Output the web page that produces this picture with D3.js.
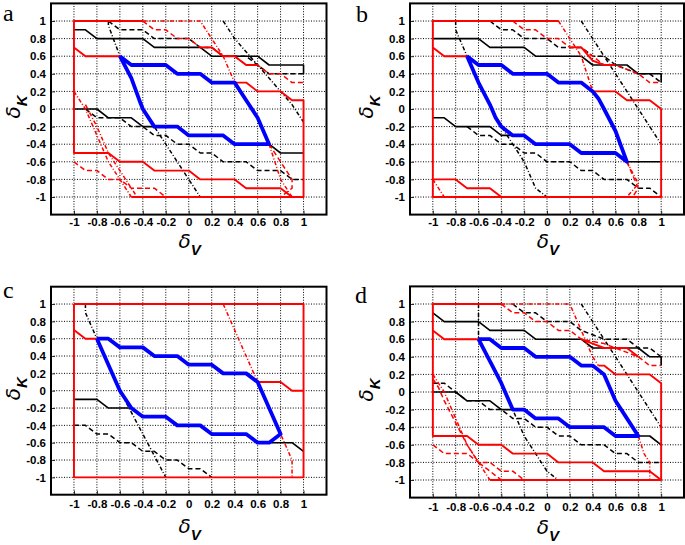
<!DOCTYPE html>
<html><head><meta charset="utf-8">
<script src="https://cdn.jsdelivr.net/npm/d3@7"></script>
<style>
html,body{margin:0;padding:0;background:#fff;}
svg{display:block;}
</style></head>
<body>
<svg id="chart" width="685" height="545"></svg>
<script>
// ---------- tick labels ----------
const tickValues = [-1,-0.8,-0.6,-0.4,-0.2,0,0.2,0.4,0.6,0.8,1];
const panelLetters = ["a","b","c","d"];

// ---------- panel a ----------
const a_blue = [[-0.6,0.6],[-0.5,0.5],[-0.2,0.5],[-0.1,0.4],[0.1,0.4],[0.2,0.3],[0.4,0.3],[0.5,0.1],[0.6,-0.1],[0.7,-0.4],[0.4,-0.4],[0.3,-0.3],[0,-0.3],[-0.1,-0.2],[-0.3,-0.2],[-0.4,0],[-0.43,0.1],[-0.5,0.35],[-0.6,0.6]];
const a_blackSolid = [
  [[-1,0.9],[-0.9,0.9],[-0.8,0.8],[-0.4,0.8],[-0.3,0.7],[0.1,0.7],[0.2,0.6],[0.6,0.6],[0.7,0.5],[1,0.5],[1,0.4]],
  [[-1,0],[-0.8,0],[-0.7,-0.1],[-0.5,-0.1],[-0.4,-0.2],[-0.3,-0.2]],
  [[0.7,-0.4],[0.8,-0.5],[1,-0.5]]
];
const a_blackDashed = [
  [[-0.7,1],[-0.6,0.9],[-0.4,0.9],[-0.3,0.8],[0,0.8],[0.1,0.7],[0.2,0.7],[0.3,0.6],[0.5,0.6],[0.6,0.5],[0.7,0.4],[1,0.4]],
  [[-0.9,0],[-0.8,-0.1],[-0.6,-0.1],[-0.5,-0.2],[-0.4,-0.2],[-0.3,-0.3],[-0.2,-0.3],[-0.1,-0.4],[0,-0.4],[0.1,-0.5],[0.2,-0.5],[0.3,-0.6],[0.5,-0.6],[0.6,-0.7],[0.8,-0.7],[0.9,-0.8],[1,-0.8]]
];
const a_blackDashDot = [
  [[-0.7,1],[-0.7,0.95],[-0.6,0.6],[-0.5,0.35],[-0.4,0],[-0.3,-0.2],[-0.2,-0.4],[-0.1,-0.6],[0,-0.8],[0.1,-1]],
  [[0.3,1],[0.4,0.8],[0.6,0.5],[0.8,0.2],[0.9,0.05],[1,-0.15]]
];
const a_redSolid = [
  [[-0.4,1],[-1,1],[-1,-0.5],[-0.7,-0.5],[-0.6,-0.6],[-0.4,-0.6],[-0.3,-0.7],[0,-0.7],[0.1,-0.8],[0.4,-0.8],[0.5,-0.9],[0.8,-0.9],[0.9,-1]],
  [[-0.5,-1],[1,-1],[1,0.1],[0.9,0.1],[0.8,0.2],[0.6,0.2],[0.5,0.3],[0.4,0.3]],
  [[-1,0.7],[-0.9,0.6],[-0.6,0.6]],
  [[0.1,0.7],[0.2,0.7],[0.3,0.6],[0.4,0.6],[0.5,0.5],[0.6,0.5]]
];
const a_redDashed = [
  [[-0.4,1],[-0.3,0.9],[-0.2,0.9],[-0.1,0.8],[0,0.8],[0.1,0.7],[0.2,0.7],[0.3,0.6],[0.4,0.6],[0.5,0.5],[0.6,0.5],[0.7,0.4],[0.8,0.4],[0.9,0.3],[1,0.3]],
  [[-1,-0.6],[-0.9,-0.7],[-0.8,-0.7],[-0.7,-0.8],[-0.6,-0.8],[-0.5,-0.9],[-0.3,-0.9],[-0.2,-1]],
  [[0.7,-0.4],[0.8,-0.6],[0.9,-0.8],[0.9,-0.9],[0.8,-1]]
];
const a_redDashDot = [
  [[-0.4,1],[0.1,1],[0.2,0.8],[0.3,0.6],[0.4,0.3]],
  [[-1,0.2],[-0.9,0],[-0.8,-0.3],[-0.7,-0.6],[-0.6,-0.8],[-0.5,-1]],
  [[-0.9,0.05],[-0.8,-0.2],[-0.7,-0.5],[-0.6,-0.7],[-0.5,-0.9],[-0.45,-1]],
  [[0.7,-0.4],[0.75,-0.6],[0.8,-0.8],[0.85,-0.9],[0.9,-1]]
];

// ---------- panel b ----------
const b_blue = [[-0.7,0.6],[-0.6,0.5],[-0.4,0.5],[-0.3,0.4],[0,0.4],[0.1,0.3],[0.3,0.3],[0.4,0.2],[0.45,0.12],[0.5,0],[0.6,-0.25],[0.7,-0.6],[0.6,-0.5],[0.3,-0.5],[0.2,-0.4],[-0.1,-0.4],[-0.2,-0.3],[-0.3,-0.3],[-0.4,-0.2],[-0.45,-0.1],[-0.5,0.05],[-0.6,0.3],[-0.7,0.6]];
const b_blackSolid = [
  [[-1,0.8],[-0.6,0.8],[-0.5,0.7],[-0.2,0.7],[-0.1,0.6],[0.3,0.6],[0.4,0.5],[0.7,0.5],[0.8,0.4],[1,0.4],[1,0.3]],
  [[-1,-0.1],[-0.9,-0.1],[-0.8,-0.2],[-0.5,-0.2],[-0.4,-0.3],[-0.3,-0.3]],
  [[0.7,-0.6],[1,-0.6]]
];
const b_blackDashed = [
  [[-0.5,1],[-0.4,0.9],[-0.3,0.9],[-0.2,0.8],[0,0.8],[0.1,0.7],[0.3,0.7],[0.4,0.6],[0.5,0.6],[0.6,0.5],[0.8,0.4],[0.9,0.4],[1,0.3]],
  [[-0.7,-0.2],[-0.6,-0.3],[-0.5,-0.3],[-0.4,-0.4],[-0.3,-0.4],[-0.2,-0.5],[-0.1,-0.5],[0,-0.6],[0.2,-0.6],[0.3,-0.7],[0.4,-0.7],[0.5,-0.8],[0.7,-0.8],[0.8,-0.9],[0.9,-0.9],[1,-1]]
];
const b_blackDashDot = [
  [[-0.8,1],[-0.8,0.9],[-0.7,0.6],[-0.6,0.3],[-0.5,0.05],[-0.4,-0.2],[-0.3,-0.4],[-0.2,-0.6],[-0.1,-0.9],[0,-1]],
  [[0.3,1],[0.4,0.8],[0.5,0.6],[0.6,0.4],[0.7,0.2],[0.8,0],[0.9,-0.2],[1,-0.4]]
];
const b_redSolid = [
  [[0.1,1],[-1,1],[-1,-1],[1,-1],[1,0]],
  [[-1,0.7],[-0.9,0.6],[-0.7,0.6]],
  [[0.4,0.2],[0.6,0.2],[0.7,0.1],[0.9,0.1],[1,0]],
  [[-1,-0.8],[-0.8,-0.8],[-0.7,-0.9],[-0.5,-0.9],[-0.4,-1]],
  [[0.2,0.7],[0.3,0.7],[0.4,0.55],[0.5,0.5],[0.6,0.5]]
];
const b_redDashed = [
  [[-0.3,1],[-0.2,0.9],[-0.1,0.9],[0,0.8],[0.1,0.8],[0.2,0.7],[0.3,0.7],[0.4,0.6],[0.5,0.5],[0.6,0.5],[0.7,0.45],[0.8,0.4],[0.9,0.3],[1,0.3]],
  [[0.7,-0.6],[0.75,-0.75],[0.8,-0.9],[0.75,-1]]
];
const b_redDashDot = [
  [[0.1,1],[0.2,0.8],[0.3,0.6],[0.4,0.2]],
  [[0.7,-0.6],[0.8,-0.85],[0.7,-1]],
  [[-1,-0.8],[-0.9,-1]]
];

// ---------- panel c ----------
const c_blue = [[-0.8,0.6],[-0.7,0.6],[-0.6,0.5],[-0.4,0.5],[-0.3,0.4],[-0.1,0.4],[0,0.3],[0.2,0.3],[0.3,0.2],[0.5,0.2],[0.6,0.1],[0.7,-0.2],[0.8,-0.5],[0.7,-0.6],[0.6,-0.6],[0.5,-0.5],[0.2,-0.5],[0.1,-0.4],[-0.1,-0.4],[-0.2,-0.3],[-0.4,-0.3],[-0.5,-0.2],[-0.6,0],[-0.7,0.3],[-0.8,0.6]];
const c_blackSolid = [
  [[-1,-0.1],[-0.8,-0.1],[-0.7,-0.2],[-0.5,-0.2]],
  [[0.7,-0.6],[0.9,-0.6],[1,-0.7]]
];
const c_blackDashed = [
  [[-1,-0.4],[-0.9,-0.4],[-0.8,-0.5],[-0.7,-0.5],[-0.6,-0.6],[-0.5,-0.6],[-0.4,-0.7],[-0.3,-0.7],[-0.2,-0.8],[-0.1,-0.8],[0,-0.9],[0.1,-0.9],[0.2,-1]]
];
const c_blackDashDot = [
  [[-0.9,1],[-0.9,0.9],[-0.8,0.6],[-0.7,0.3],[-0.6,0],[-0.5,-0.25],[-0.4,-0.5],[-0.3,-0.75],[-0.2,-1]]
];
const c_redSolid = [
  [[-1,1],[1,1],[1,-1],[-1,-1],[-1,1]],
  [[-1,0.7],[-0.9,0.6],[-0.8,0.6]],
  [[0.6,0.1],[0.8,0.1],[0.9,0],[1,0]]
];
const c_redDashed = [];
const c_redDashDot = [
  [[0.3,1],[0.4,0.7],[0.5,0.4],[0.6,0.1],[0.7,-0.2],[0.8,-0.5],[0.85,-0.65],[0.9,-0.8],[0.9,-1]]
];

// ---------- panel d ----------
const d_blue = [[-0.6,0.6],[-0.5,0.6],[-0.4,0.5],[-0.2,0.5],[-0.1,0.4],[0.2,0.4],[0.3,0.3],[0.4,0.3],[0.5,0.2],[0.6,-0.1],[0.7,-0.3],[0.8,-0.5],[0.6,-0.5],[0.5,-0.4],[0.2,-0.4],[0.1,-0.3],[-0.1,-0.3],[-0.2,-0.2],[-0.3,-0.2],[-0.4,0.1],[-0.5,0.35],[-0.6,0.6]];
const d_blackSolid = [
  [[-1,0.9],[-0.9,0.8],[-0.6,0.8],[-0.5,0.7],[-0.2,0.7],[-0.1,0.6],[0.3,0.6],[0.4,0.5],[0.8,0.5],[0.9,0.4],[1,0.4],[1,0.3]],
  [[-1,0],[-0.8,0],[-0.7,-0.1],[-0.5,-0.1],[-0.4,-0.2],[-0.3,-0.2]],
  [[0.8,-0.5],[0.9,-0.5],[1,-0.6]]
];
const d_blackDashed = [
  [[-0.3,1],[-0.2,0.9],[-0.1,0.9],[0,0.8],[0.2,0.8],[0.3,0.7],[0.4,0.65],[0.5,0.6],[0.7,0.6],[0.8,0.5],[0.9,0.5],[1,0.4]],
  [[-1,0.1],[-0.9,0.1],[-0.8,0],[-0.7,-0.1],[-0.6,-0.1],[-0.5,-0.2],[-0.4,-0.2],[-0.3,-0.3],[-0.2,-0.3],[-0.1,-0.4],[0,-0.4],[0.1,-0.5],[0.2,-0.5],[0.3,-0.6],[0.5,-0.6],[0.6,-0.7],[0.7,-0.7],[0.8,-0.8],[1,-0.8]]
];
const d_blackDashDot = [
  [[-0.6,1],[-0.6,0.6],[-0.5,0.35],[-0.4,0.1],[-0.3,-0.2],[-0.2,-0.5],[-0.1,-0.7],[0,-0.9],[0.1,-1]],
  [[0.3,1],[0.4,0.8],[0.5,0.6],[0.6,0.4],[0.7,0.2],[0.8,0],[0.9,-0.2],[1,-0.4]]
];
const d_redSolid = [
  [[-0.4,1],[-1,1],[-1,-0.5],[-0.7,-0.5],[-0.6,-0.6],[-0.4,-0.6],[-0.3,-0.7],[0,-0.7],[0.1,-0.8],[0.4,-0.8],[0.5,-0.9],[0.9,-0.9],[1,-1]],
  [[-0.5,-1],[1,-1],[1,0.1],[0.9,0.2],[0.6,0.2],[0.5,0.3],[0.45,0.3]],
  [[-1,0.7],[-0.9,0.6],[-0.6,0.6]],
  [[0.3,0.6],[0.4,0.55],[0.5,0.5],[0.7,0.5],[0.8,0.4]]
];
const d_redDashed = [
  [[-0.4,1],[-0.3,0.9],[-0.2,0.9],[-0.1,0.8],[0,0.8],[0.1,0.7],[0.2,0.7],[0.3,0.6],[0.5,0.55],[0.6,0.5],[0.7,0.45],[0.8,0.4],[0.9,0.3],[1,0.3]],
  [[-1,-0.6],[-0.9,-0.7],[-0.7,-0.7],[-0.6,-0.8],[-0.5,-0.8],[-0.4,-0.9],[-0.3,-0.9],[-0.2,-1]],
  [[-1,0.15],[-0.95,0.05],[-0.9,-0.1],[-0.8,-0.35],[-0.7,-0.6],[-0.6,-0.8],[-0.5,-0.9],[-0.4,-1]]
];
const d_redDashDot = [
  [[-0.4,1],[0.2,1],[0.25,0.85],[0.3,0.7],[0.4,0.4],[0.45,0.3]],
  [[-1,0.2],[-0.9,0],[-0.8,-0.3],[-0.7,-0.6],[-0.6,-0.8],[-0.5,-1]],
  [[0.8,-0.5],[0.85,-0.7],[0.9,-0.8],[0.9,-1]]
];

const panelData = [
  {blue:a_blue, bs:a_blackSolid, bd:a_blackDashed, bdd:a_blackDashDot, rs:a_redSolid, rd:a_redDashed, rdd:a_redDashDot},
  {blue:b_blue, bs:b_blackSolid, bd:b_blackDashed, bdd:b_blackDashDot, rs:b_redSolid, rd:b_redDashed, rdd:b_redDashDot},
  {blue:c_blue, bs:c_blackSolid, bd:c_blackDashed, bdd:c_blackDashDot, rs:c_redSolid, rd:c_redDashed, rdd:c_redDashDot},
  {blue:d_blue, bs:d_blackSolid, bd:d_blackDashed, bdd:d_blackDashDot, rs:d_redSolid, rd:d_redDashed, rdd:d_redDashDot}
];

// ---------- layout (pixels) ----------
const layout = [
  {x0:51,  x1:326.5, y0:3.4,   y1:214.6, lx:3,   ly:21,  ylabX:14,  xlabY:248, xPad:3},
  {x0:410, x1:684,   y0:3.4,   y1:214.6, lx:356, ly:22,  ylabX:367, xlabY:248, xPad:3.5},
  {x0:51,  x1:326.5, y0:286.7, y1:494.7, lx:3,   ly:298, ylabX:14,  xlabY:533, xPad:5.5},
  {x0:410, x1:684,   y0:286.4, y1:497.6, lx:355, ly:303, ylabX:367, xlabY:534, xPad:5}
];

const svg = d3.select("#chart");
const RED = "#ff0000", BLUE = "#0000ff", BLACK = "#000";
const fmt = d => String(+(+d).toFixed(1));

layout.forEach((L, i) => {
  const D = panelData[i];
  const x = d3.scaleLinear().domain([-1.2, 1.2]).range([L.x0, L.x1]);
  const y = d3.scaleLinear().domain([-1.2, 1.2]).range([L.y1, L.y0]);
  const g = svg.append("g");
  const line = d3.line().x(p => x(p[0])).y(p => y(p[1]));

  // grid
  const grid = g.append("g").attr("stroke", "#000").attr("stroke-width", 1).attr("stroke-dasharray", "1,1.6");
  tickValues.forEach(t => {
    grid.append("line").attr("x1", x(t)).attr("x2", x(t)).attr("y1", L.y0).attr("y2", L.y1);
    grid.append("line").attr("y1", y(t)).attr("y2", y(t)).attr("x1", L.x0).attr("x2", L.x1);
  });

  // axes (tick labels)
  const xa = g.append("g").attr("transform", `translate(0,${L.y1})`)
    .call(d3.axisBottom(x).tickValues(tickValues).tickFormat(fmt).tickSize(-4).tickPadding(L.xPad));
  const ya = g.append("g").attr("transform", `translate(${L.x0},0)`)
    .call(d3.axisLeft(y).tickValues(tickValues).tickFormat(fmt).tickSize(-4).tickPadding(5));
  [xa, ya].forEach(ax => {
    ax.attr("font-family", null).attr("font-size", null);
    ax.select(".domain").remove();
    ax.selectAll("text").style("font-family", "'Liberation Sans', Arial, sans-serif")
      .style("font-weight", "bold").style("font-size", "11.5px").attr("fill", "#000");
    ax.selectAll(".tick line").attr("stroke", "#000").attr("stroke-width", 0.8);
  });

  const drawSet = (set, color, width, dash) => {
    set.forEach(pts => {
      g.append("path").attr("d", line(pts)).attr("fill", "none")
        .attr("stroke", color).attr("stroke-width", width)
        .attr("stroke-dasharray", dash).attr("stroke-linejoin", "round");
    });
  };
  drawSet(D.bd, BLACK, 1.5, "5,3");
  drawSet(D.bdd, BLACK, 1.5, "4,2,1,2");
  drawSet(D.bs, BLACK, 1.6, null);
  drawSet(D.rd, RED, 1.5, "5,3");
  drawSet(D.rdd, RED, 1.5, "4,2,1,2");
  drawSet(D.rs, RED, 1.9, null);
  drawSet([D.blue], BLUE, 3.8, null);

  // box
  g.append("rect").attr("x", L.x0).attr("y", L.y0).attr("width", L.x1 - L.x0).attr("height", L.y1 - L.y0)
    .attr("fill", "none").attr("stroke", "#000").attr("stroke-width", 2);

  // panel letter
  svg.append("text").attr("x", L.lx).attr("y", L.ly).text(panelLetters[i])
    .attr("font-family", "'Liberation Serif', 'Times New Roman', serif").attr("font-size", 24).attr("fill", "#000");

  // x label
  const xl = svg.append("text").attr("x", x(0) + 1).attr("y", L.xlabY).attr("text-anchor", "middle")
    .attr("font-family", "'DejaVu Sans', sans-serif").attr("font-style", "italic").attr("font-size", 20).attr("fill", "#000");
  xl.append("tspan").text("δ");
  xl.append("tspan").attr("dy", 7).attr("font-family", "'Liberation Sans', Arial, sans-serif")
    .attr("font-weight", "bold").attr("font-size", 15).text("V");

  // y label
  const cy = y(0);
  const yl = svg.append("text").attr("transform", `translate(${L.ylabX + 6},${cy - 2}) rotate(-90)`)
    .attr("text-anchor", "middle")
    .attr("font-family", "'DejaVu Sans', sans-serif").attr("font-style", "italic").attr("font-size", 20).attr("fill", "#000");
  yl.append("tspan").text("δ");
  yl.append("tspan").attr("dy", 7).attr("font-family", "'Liberation Sans', Arial, sans-serif")
    .attr("font-weight", "bold").attr("font-size", 15).text("K");
});
</script>
</body></html>
